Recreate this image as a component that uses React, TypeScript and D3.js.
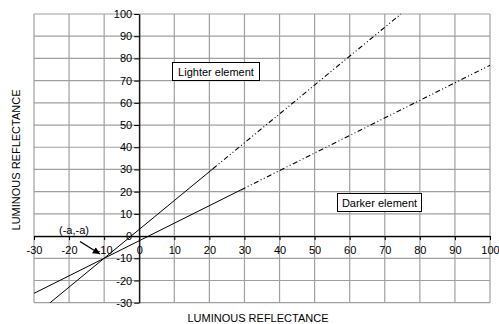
import React, { useEffect, useRef } from 'react';
import * as d3 from 'd3';

// axis ticks
const xTicks = [-30, -20, -10, 0, 10, 20, 30, 40, 50, 60, 70, 80, 90, 100];
const yTicks = [-30, -20, -10, 0, 10, 20, 30, 40, 50, 60, 70, 80, 90, 100];

// line segments, [x, y]
const lighterSolid: [number, number][] = [[-25.4, -30], [21, 30.3]];
const lighterDashed: [number, number][] = [[21, 30.3], [74.6, 100]];
const darkerSolid: [number, number][] = [[-30, -25.8], [29, 20.8]];
const darkerDashed: [number, number][] = [[29, 20.8], [100, 76.9]];

const labelLighter = 'Lighter element';
const labelDarker = 'Darker element';
const pointLabel = '(-a,-a)';
const axisTitle = 'LUMINOUS REFLECTANCE';

const App: React.FC = () => {
  const ref = useRef<SVGSVGElement | null>(null);

  useEffect(() => {
    const width = 499;
    const height = 324;
    const font = '"Liberation Sans", Arial, sans-serif';

    const svg = d3.select(ref.current);
    svg.selectAll('*').remove();
    svg.attr('width', width).attr('height', height);

    const x = d3.scaleLinear().domain([-30, 100]).range([34, 490]);
    const y = d3.scaleLinear().domain([-30, 100]).range([302.7, 14]);

    // grid
    const grid = svg.append('g').attr('stroke', '#a0a0a0').attr('stroke-width', 1.2);
    xTicks.forEach(t => {
      grid.append('line')
        .attr('x1', x(t)).attr('x2', x(t))
        .attr('y1', y(-30)).attr('y2', y(100));
    });
    yTicks.forEach(t => {
      grid.append('line')
        .attr('x1', x(-30)).attr('x2', x(100))
        .attr('y1', y(t)).attr('y2', y(t));
    });

    // axes through the origin
    const xAxis = svg.append('g')
      .attr('transform', `translate(0,${y(0)})`)
      .call(d3.axisBottom(x).tickValues(xTicks).tickSize(4).tickSizeOuter(0).tickFormat(d => String(d)));
    xAxis.select('.domain').attr('stroke', '#000').attr('stroke-width', 1.2);
    xAxis.selectAll('.tick line').attr('stroke', '#000');
    xAxis.selectAll('.tick text')
      .attr('y', 10)
      .attr('fill', '#000')
      .style('font-family', font)
      .style('font-size', '11px');

    const yAxis = svg.append('g')
      .attr('transform', `translate(${x(0)},0)`)
      .call(d3.axisLeft(y).tickValues(yTicks).tickSize(5).tickSizeOuter(0).tickFormat(d => String(d)));
    yAxis.select('.domain').attr('stroke', '#000').attr('stroke-width', 1.2);
    yAxis.selectAll('.tick line').attr('stroke', '#000');
    yAxis.selectAll('.tick text')
      .attr('x', -7)
      .attr('fill', '#000')
      .style('font-family', font)
      .style('font-size', '11px');

    // lines
    const line = d3.line<[number, number]>()
      .x(d => x(d[0]))
      .y(d => y(d[1]));

    [lighterSolid, darkerSolid].forEach(seg => {
      svg.append('path')
        .attr('d', line(seg))
        .attr('fill', 'none')
        .attr('stroke', '#000')
        .attr('stroke-width', 1);
    });
    [lighterDashed, darkerDashed].forEach(seg => {
      svg.append('path')
        .attr('d', line(seg))
        .attr('fill', 'none')
        .attr('stroke', '#000')
        .attr('stroke-width', 1.1)
        .attr('stroke-dasharray', '5,2.5,1,2.5,1,2.5');
    });

    // boxed labels
    const boxLabel = (text: string, bx: number, by: number, bw: number, bh: number) => {
      svg.append('rect')
        .attr('x', bx).attr('y', by)
        .attr('width', bw).attr('height', bh)
        .attr('fill', '#fff')
        .attr('stroke', '#000')
        .attr('stroke-width', 1);
      svg.append('text')
        .attr('x', bx + bw / 2)
        .attr('y', by + bh / 2 + 4)
        .attr('text-anchor', 'middle')
        .style('font-family', font)
        .style('font-size', '11px')
        .text(text);
    };
    boxLabel(labelLighter, 172.5, 62.5, 87, 18);
    boxLabel(labelDarker, 337.5, 193.5, 84, 18);

    // (-a,-a) annotation with arrow
    svg.append('defs').append('marker')
      .attr('id', 'arrow')
      .attr('viewBox', '0 0 10 10')
      .attr('refX', 10).attr('refY', 5)
      .attr('markerWidth', 5.5).attr('markerHeight', 5.5)
      .attr('orient', 'auto')
      .append('path')
      .attr('d', 'M0,0 L10,5 L0,10 z')
      .attr('fill', '#000');

    svg.append('line')
      .attr('x1', 80).attr('y1', 241.5)
      .attr('x2', 100).attr('y2', 254)
      .attr('stroke', '#000')
      .attr('stroke-width', 1.3)
      .attr('marker-end', 'url(#arrow)');

    svg.append('text')
      .attr('x', 74)
      .attr('y', 234)
      .attr('text-anchor', 'middle')
      .style('font-family', font)
      .style('font-size', '11px')
      .text(pointLabel);

    // axis titles
    svg.append('text')
      .attr('x', 258)
      .attr('y', 322)
      .attr('text-anchor', 'middle')
      .style('font-family', font)
      .style('font-size', '11px')
      .text(axisTitle);

    svg.append('text')
      .attr('transform', `translate(20,160) rotate(-90)`)
      .attr('text-anchor', 'middle')
      .style('font-family', font)
      .style('font-size', '11px')
      .text(axisTitle);
  }, []);

  return (
    <svg ref={ref} style={{ position: 'absolute', left: 0, top: 0, background: '#fff' }}></svg>
  );
};

export default App;
